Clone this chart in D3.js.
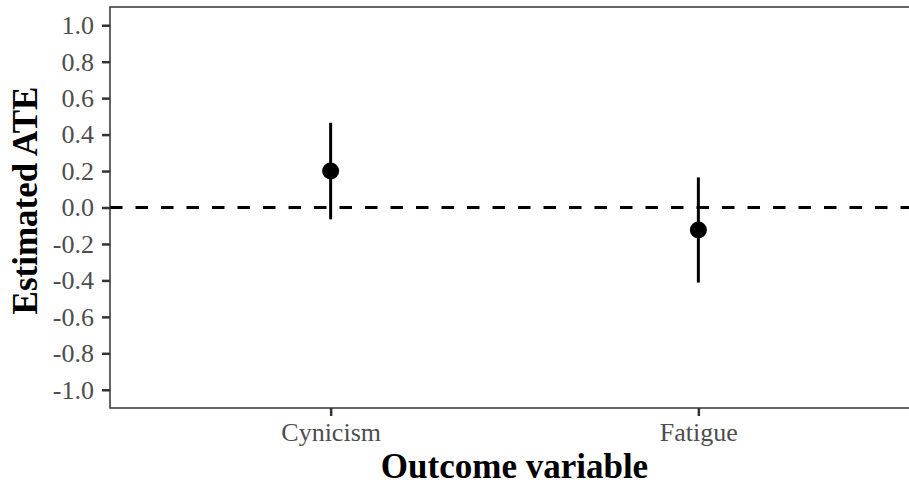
<!DOCTYPE html>
<html><head><meta charset="utf-8">
<script src="https://cdn.jsdelivr.net/npm/d3@7"></script>
<style>body{margin:0;background:#fff}svg{display:block}</style>
</head><body>
<script>
const categories = ["Cynicism", "Fatigue"];
const estimates = [0.20, -0.123];
const lower = [-0.065, -0.412];
const upper = [0.465, 0.165];
const yTicks = [-1.0, -0.8, -0.6, -0.4, -0.2, 0.0, 0.2, 0.4, 0.6, 0.8, 1.0];

const W = 909, H = 488;
const panel = {left: 110, top: 7, right: 919, bottom: 408};
const svg = d3.select("body").append("svg").attr("width", W).attr("height", H);

const x = d3.scalePoint().domain(categories).range([panel.left, panel.right]).padding(0.6);
const y = d3.scaleLinear().domain([-1.1, 1.1]).range([panel.bottom, panel.top]);

// reference line
svg.append("line")
  .attr("x1", panel.left).attr("x2", panel.right)
  .attr("y1", y(0)).attr("y2", y(0))
  .attr("stroke", "#000").attr("stroke-width", 3)
  .attr("stroke-dasharray", "12.5,13");

const data = categories.map((c, i) => ({c, est: estimates[i], lo: lower[i], hi: upper[i]}));
svg.selectAll(".ci").data(data).join("line")
  .attr("x1", d => x(d.c)).attr("x2", d => x(d.c))
  .attr("y1", d => y(d.lo)).attr("y2", d => y(d.hi))
  .attr("stroke", "#000").attr("stroke-width", 3);
svg.selectAll(".pt").data(data).join("circle")
  .attr("cx", d => x(d.c)).attr("cy", d => y(d.est)).attr("r", 8.5)
  .attr("fill", "#000");

// panel border
svg.append("rect")
  .attr("x", panel.left).attr("y", panel.top)
  .attr("width", panel.right - panel.left).attr("height", panel.bottom - panel.top)
  .attr("fill", "none").attr("stroke", "#333").attr("stroke-width", 1.5);

// axes
const yAxis = svg.append("g").attr("transform", `translate(${panel.left},0)`)
  .call(d3.axisLeft(y).tickValues(yTicks).tickFormat(d3.format(".1f")).tickSize(8).tickPadding(8));
const xAxis = svg.append("g").attr("transform", `translate(0,${panel.bottom})`)
  .call(d3.axisBottom(x).tickSize(8).tickPadding(7));
[yAxis, xAxis].forEach(g => {
  g.select(".domain").remove();
  g.selectAll(".tick line").attr("stroke", "#333").attr("stroke-width", 2.5);
  g.selectAll(".tick text").attr("fill", "#4d4d4d")
    .style("font-family", "'Liberation Serif', serif").style("font-size", "26px");
});
yAxis.selectAll(".tick text").text(d => d3.format(".1f")(d).replace("−", "-"));

svg.append("text")
  .attr("x", 514.5).attr("y", 478)
  .attr("text-anchor", "middle")
  .style("font-family", "'Liberation Serif', serif").style("font-size", "35px").style("font-weight", "bold")
  .attr("fill", "#000").text("Outcome variable");

svg.append("text")
  .attr("transform", `translate(37,200.5) rotate(-90)`)
  .attr("text-anchor", "middle")
  .style("font-family", "'Liberation Serif', serif").style("font-size", "35px").style("font-weight", "bold")
  .attr("fill", "#000").text("Estimated ATE");
</script>
</body></html>
